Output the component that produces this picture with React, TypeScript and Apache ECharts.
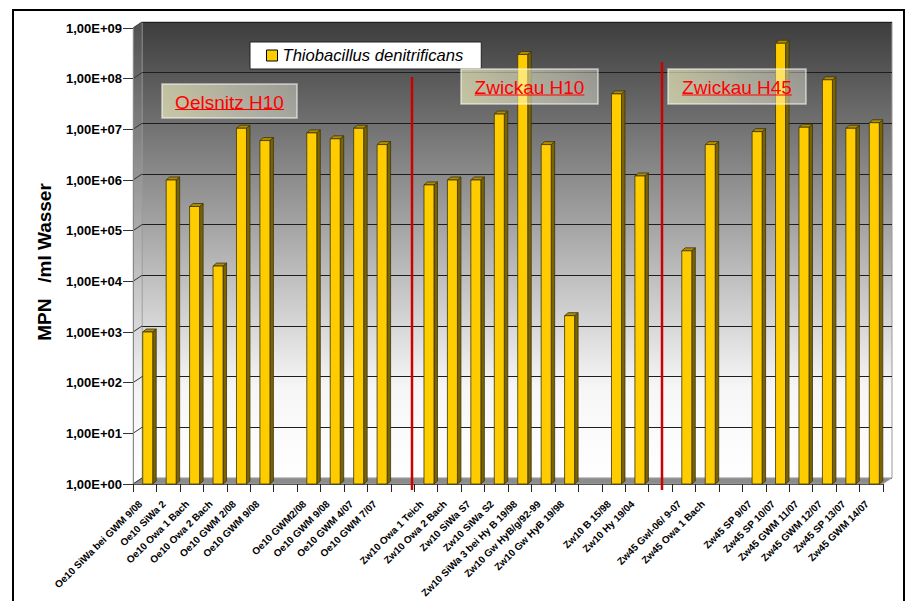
import React, { useEffect, useRef } from 'react';
import * as echarts from 'echarts';

const FONT = '"Liberation Sans", Arial, sans-serif';

const categories: string[] = [
  'Oe10 SiWa bei GWM 9/08', 'Oe10 SiWa 2', 'Oe10 Owa 1 Bach', 'Oe10 Owa 2 Bach', 'Oe10 GWM 2/08', 'Oe10 GWM 9/08', '',
  'Oe10 GWM2/08', 'Oe10 GWM 9/08', 'Oe10 GWM 4/07', 'Oe10 GWM 7/07', '',
  'Zw10 Owa 1 Teich', 'Zw10 Owa 2 Bach', 'Zw10 SiWa S7', 'Zw10 SiWa S2', 'Zw10 SiWa 3 bei Hy B 19/98',
  'Zw10 Gw HyB/g/92-99', 'Zw10 Gw HyB 19/98', '', 'Zw10 B 15/98', 'Zw10 Hy 19/04', '',
  'Zw45 Gwl-06/ 9-07', 'Zw45 Owa 1 Bach', '', 'Zw45 SP 9/07', 'Zw45 SP 10/07', 'Zw45 GWM 11/07',
  'Zw45 GWM 12/07', 'Zw45 SP 13/07', 'Zw45 GWM 14/07',
];

const values: (number | null)[] = [
  1000, 1e6, 3e5, 2e4, 1.05e7, 6e6, null,
  8.5e6, 6.5e6, 1.05e7, 5e6, null,
  8e5, 1e6, 1e6, 2e7, 3e8, 5e6, 2.1e3, null, 5e7, 1.2e6, null,
  4e4, 5e6, null, 9e6, 5e8, 1.1e7, 9.5e7, 1.05e7, 1.35e7,
];

const seriesName = 'Thiobacillus denitrificans';
const yTickValues = [1, 10, 100, 1e3, 1e4, 1e5, 1e6, 1e7, 1e8, 1e9];
const regionLabels = ['Oelsnitz H10', 'Zwickau H10', 'Zwickau H45'];
const yAxisTitle = 'MPN   /ml Wasser';

function fmtExp(v: number): string {
  const e = Math.round(Math.log10(v));
  return '1,00E+' + (e < 10 ? '0' : '') + e;
}

function measure(text: string, font: string): number {
  const c = document.createElement('canvas').getContext('2d');
  if (!c) return text.length * 9;
  c.font = font;
  return c.measureText(text).width;
}

export default function App() {
  const ref = useRef<HTMLDivElement>(null);

  useEffect(() => {
    if (!ref.current) return;
    const chart = echarts.init(ref.current, undefined, { renderer: 'svg' });

    const barData = values
      .map((v, i) => (v == null ? null : [i, v]))
      .filter((d) => d != null) as number[][];

    const wallGradient = new echarts.graphic.LinearGradient(0, 0, 0, 1, [
      { offset: 0, color: '#3d3d3d' },
      { offset: 0.8, color: '#f6f6f6' },
      { offset: 1, color: '#ffffff' },
    ]);
    const stripGradient = new echarts.graphic.LinearGradient(0, 0, 0, 1, [
      { offset: 0, color: '#505050' },
      { offset: 0.8, color: '#f4f4f4' },
      { offset: 1, color: '#ffffff' },
    ]);

    const annFont = `19px ${FONT}`;
    const boxes = [
      { x: 162, y: 84, w: 135, h: 34 },
      { x: 461, y: 69, w: 137, h: 35 },
      { x: 668, y: 69, w: 138, h: 35 },
    ];
    const annGraphics: any[] = [];
    regionLabels.forEach((lbl, k) => {
      const b = boxes[k];
      const cx = b.x + b.w / 2;
      const cy = b.y + b.h / 2;
      const tw = measure(lbl, annFont);
      annGraphics.push({
        type: 'rect',
        z: 20,
        shape: { x: b.x, y: b.y, width: b.w, height: b.h },
        style: {
          fill: new echarts.graphic.LinearGradient(0, 0, 1, 0, [
            { offset: 0, color: 'rgba(255,255,200,0.62)' },
            { offset: 1, color: 'rgba(255,255,240,0.38)' },
          ]),
          stroke: 'rgba(255,255,255,0.6)',
          lineWidth: 1.5,
        },
      });
      annGraphics.push({
        type: 'text',
        z: 21,
        x: cx,
        y: cy + 1,
        style: {
          text: lbl,
          fill: '#ff0000',
          font: annFont,
          align: 'center',
          verticalAlign: 'middle',
        },
      });
      annGraphics.push({
        type: 'line',
        z: 21,
        shape: { x1: cx - tw / 2, y1: cy + 8.5, x2: cx + tw / 2, y2: cy + 8.5 },
        style: { stroke: '#ff0000', lineWidth: 1.2 },
      });
    });

    const option: any = {
      animation: false,
      backgroundColor: '#ffffff',
      textStyle: { fontFamily: FONT },
      legend: {
        data: [
          {
            name: seriesName,
            icon: 'rect',
            itemStyle: { color: '#FFCC00', borderColor: '#000', borderWidth: 1 },
          },
        ],
        left: 250,
        top: 42,
        padding: [5, 18, 5, 16],
        itemWidth: 11,
        itemHeight: 11,
        backgroundColor: '#ffffff',
        borderColor: '#222',
        borderWidth: 1,
        selectedMode: false,
        z: 15,
        textStyle: { fontStyle: 'italic', fontSize: 16.6, fontFamily: FONT, color: '#000' },
      },
      grid: [
        { left: 133, right: 26, top: 28, bottom: 117, show: false, containLabel: false, outerBoundsMode: 'none' },
        {
          left: 142, right: 17, top: 22, bottom: 123, show: true, containLabel: false, outerBoundsMode: 'none',
          backgroundColor: wallGradient, borderColor: '#9a9a9a', borderWidth: 1, z: 0,
        },
      ],
      xAxis: [
        {
          type: 'category',
          gridIndex: 0,
          data: categories,
          boundaryGap: true,
          axisLine: { show: true, lineStyle: { color: '#555', width: 1 } },
          axisTick: { show: true, interval: 0, length: 8, lineStyle: { color: '#222' } },
          axisLabel: {
            interval: 0, rotate: 45, margin: 14, fontSize: 10, fontWeight: 'bold',
            color: '#000', fontFamily: FONT, padding: [0, 6, 0, 0],
          },
          z: 3,
        },
        { type: 'category', gridIndex: 1, data: categories, show: false },
      ],
      yAxis: [
        {
          type: 'log',
          gridIndex: 0,
          logBase: 10,
          min: 1,
          max: 1e9,
          axisLine: { show: true, lineStyle: { color: '#888' } },
          axisTick: { show: true, length: 10, lineStyle: { color: '#333' } },
          axisLabel: {
            margin: 11, fontSize: 13, fontWeight: 'bold', color: '#000', fontFamily: FONT,
            formatter: (v: number) => fmtExp(v),
          },
          splitLine: { show: false },
          z: 3,
        },
        {
          type: 'log',
          gridIndex: 1,
          logBase: 10,
          min: 1,
          max: 1e9,
          axisLine: { show: false },
          axisTick: { show: false },
          axisLabel: { show: false },
          splitLine: { show: true, lineStyle: { color: '#1e1e1e', width: 1 } },
        },
      ],
      graphic: [
        {
          type: 'polygon',
          z: 1,
          shape: { points: [[133, 28], [142, 22], [142, 478], [133, 484]] },
          style: { fill: stripGradient, stroke: '#9a9a9a', lineWidth: 0.5 },
        },
        {
          type: 'polygon',
          z: 1,
          shape: { points: [[133, 484], [883, 484], [892, 478], [142, 478]] },
          style: { fill: '#8c8c8c', stroke: '#b0b0b0', lineWidth: 0.5 },
        },
        {
          type: 'line', z: 19,
          shape: { x1: 412, y1: 77, x2: 412, y2: 490 },
          style: { stroke: '#cc0000', lineWidth: 2.5 },
        },
        {
          type: 'line', z: 19,
          shape: { x1: 662, y1: 62, x2: 662, y2: 490 },
          style: { stroke: '#cc0000', lineWidth: 2.5 },
        },
        ...annGraphics,
        {
          type: 'text',
          z: 10,
          x: 44,
          y: 262,
          rotation: Math.PI / 2,
          style: {
            text: yAxisTitle,
            fill: '#000',
            font: `bold 19px ${FONT}`,
            align: 'center',
            verticalAlign: 'middle',
          },
        },
        {
          type: 'rect',
          z: 30,
          shape: { x: 13, y: 10, width: 891, height: 600 },
          style: { fill: 'none', stroke: '#000', lineWidth: 2 },
        },
      ],
      series: [
        {
          type: 'custom',
          name: 'wallTicks',
          xAxisIndex: 0,
          yAxisIndex: 0,
          data: yTickValues.map((v) => [0, v]),
          z: 2,
          silent: true,
          renderItem: (params: any, api: any) => {
            const p = api.coord([0, api.value(1)]);
            const x = params.coordSys.x;
            return {
              type: 'line',
              shape: { x1: x, y1: p[1], x2: x + 9, y2: p[1] - 6 },
              style: { stroke: '#333', lineWidth: 1 },
            };
          },
        },
        {
          type: 'custom',
          name: seriesName,
          xAxisIndex: 0,
          yAxisIndex: 0,
          data: barData,
          encode: { x: 0, y: 1 },
          z: 5,
          itemStyle: { color: '#FFCC00', borderColor: '#000' },
          renderItem: (params: any, api: any) => {
            const idx = api.value(0);
            const v = api.value(1);
            const top = api.coord([idx, v]);
            const base = api.coord([idx, 1]);
            const cx = top[0] + 3;
            const x0 = cx - 5;
            const x1 = cx + 5;
            const dx = 3.5;
            const dy = 3;
            const ty = top[1];
            const by = base[1];
            const stroke = '#3a3410';
            return {
              type: 'group',
              children: [
                {
                  type: 'polygon',
                  shape: { points: [[x1, ty], [x1 + dx, ty - dy], [x1 + dx, by - dy], [x1, by]] },
                  style: { fill: '#7a6300', stroke, lineWidth: 0.8 },
                },
                {
                  type: 'polygon',
                  shape: { points: [[x0, ty], [x0 + dx, ty - dy], [x1 + dx, ty - dy], [x1, ty]] },
                  style: { fill: '#b08c00', stroke, lineWidth: 0.8 },
                },
                {
                  type: 'rect',
                  shape: { x: x0, y: ty, width: x1 - x0, height: by - ty },
                  style: { fill: '#FFCC00', stroke, lineWidth: 0.8 },
                },
              ],
            };
          },
        },
      ],
    };

    chart.setOption(option);
    return () => chart.dispose();
  }, []);

  return (
    <div
      ref={ref}
      style={{ position: 'fixed', left: 0, top: 0, width: 909, height: 601, background: '#fff' }}
    />
  );
}
